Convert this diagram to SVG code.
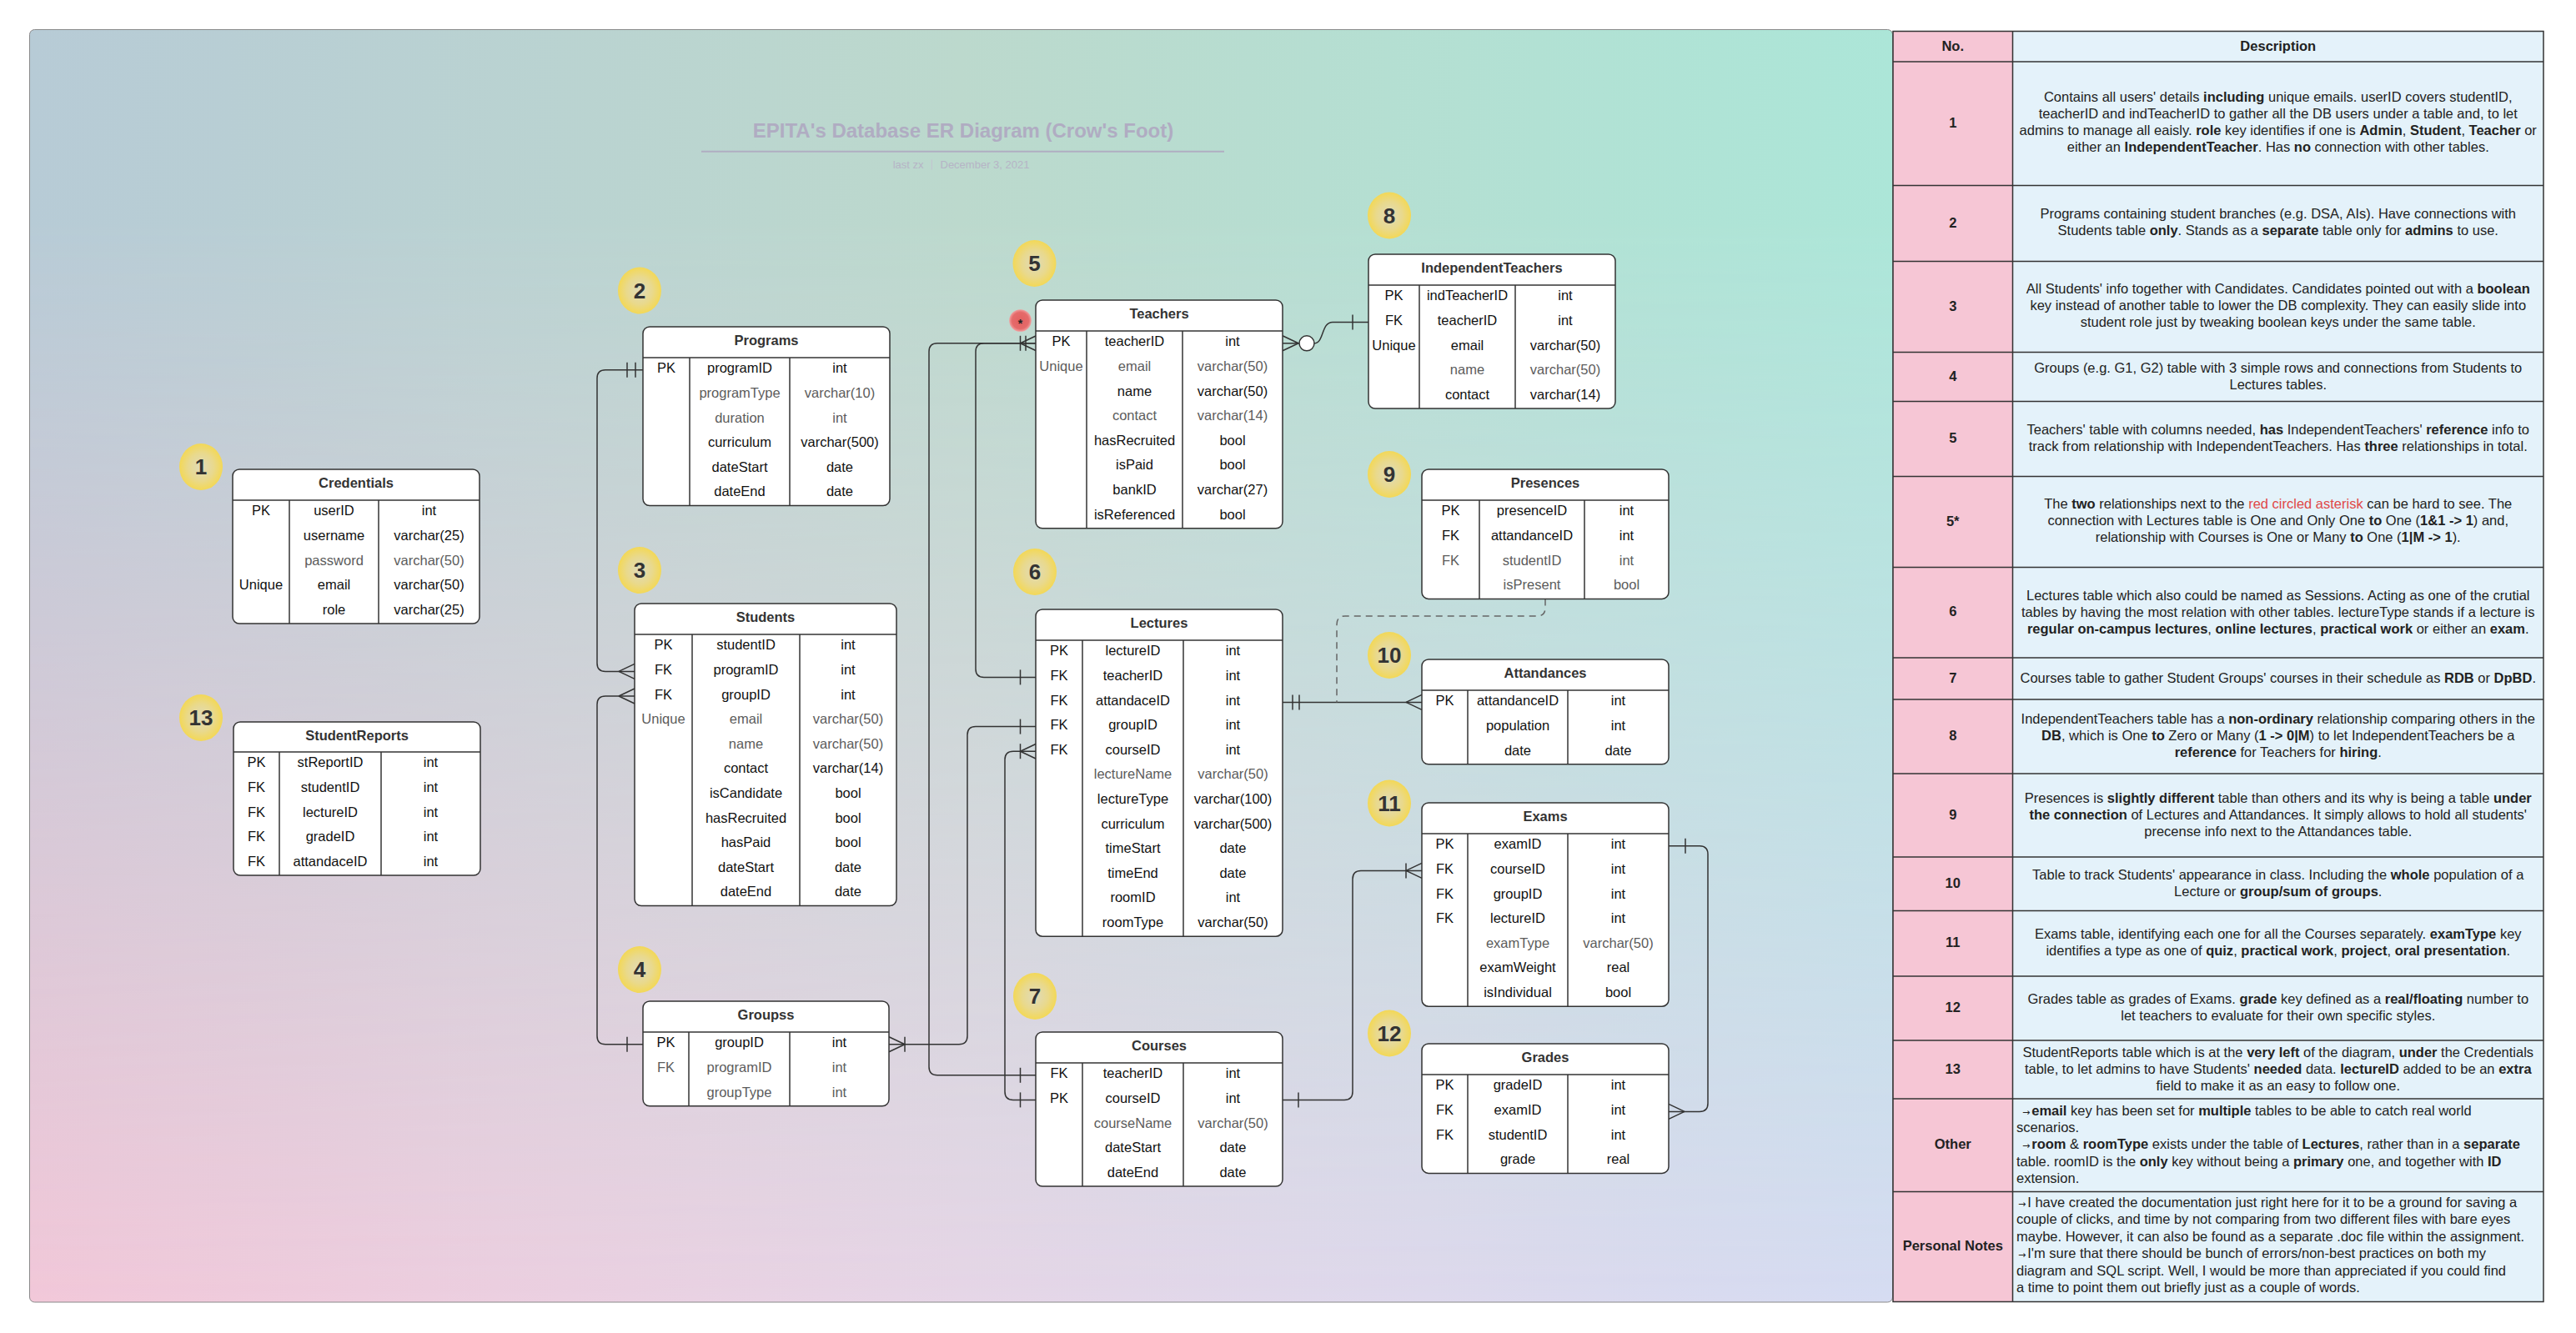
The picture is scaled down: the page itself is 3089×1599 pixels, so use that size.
<svg xmlns="http://www.w3.org/2000/svg" width="3089" height="1599" viewBox="0 0 3089 1599">
<defs>
<style>
.tb{fill:#fff;stroke:#333;stroke-width:1.5}
.ln{stroke:#333;stroke-width:1.5}
.th{font:bold 16.5px "Liberation Sans",Arial,sans-serif;fill:#333;text-anchor:middle}
.td{font:16.5px "Liberation Sans",Arial,sans-serif;fill:#111;text-anchor:middle}
.g{fill:#5c5c5c}
.bn{font:bold 26px "Liberation Sans",Arial,sans-serif;fill:#333;text-anchor:middle}
.cn{fill:none;stroke:#333;stroke-width:1.5}
.dash{stroke:#666;stroke-dasharray:8 6}
.ds{font:16.5px "Liberation Sans",Arial,sans-serif;fill:#222;text-anchor:middle}
.dl{font:16.5px "Liberation Sans",Arial,sans-serif;fill:#222}
.dh{font:bold 16.5px "Liberation Sans",Arial,sans-serif;fill:#222;text-anchor:middle}
.b{font-weight:bold}
.red{fill:#e04848}
.ar{font-family:"DejaVu Sans",sans-serif;font-size:11px}
</style>
<linearGradient id="gTop" x1="0" y1="0" x2="1" y2="0">
<stop offset="0" stop-color="#b7cbd6"/><stop offset="0.5" stop-color="#bcd9cd"/><stop offset="1" stop-color="#ace6d8"/>
</linearGradient>
<linearGradient id="gBot" x1="0" y1="0" x2="1" y2="0">
<stop offset="0" stop-color="#f2c8d9"/><stop offset="0.5" stop-color="#e6d6e7"/><stop offset="1" stop-color="#d6dcf2"/>
</linearGradient>
<linearGradient id="gFade" x1="0" y1="0" x2="0" y2="1">
<stop offset="0" stop-color="#fff"/><stop offset="0.15" stop-color="#fff"/><stop offset="1" stop-color="#000"/>
</linearGradient>
<mask id="mFade" maskUnits="userSpaceOnUse" x="0" y="0" width="3089" height="1599">
<rect x="35.5" y="35.5" width="2234" height="1526.5" fill="url(#gFade)"/>
</mask>
<radialGradient id="gBadge" cx="0.5" cy="0.5" r="0.5">
<stop offset="0" stop-color="#e0dbbb"/><stop offset="0.6" stop-color="#e9d98c"/><stop offset="1" stop-color="#f3d856"/>
</radialGradient>
<radialGradient id="gRed" cx="0.5" cy="0.5" r="0.5">
<stop offset="0" stop-color="#e26060"/><stop offset="0.75" stop-color="#e56a6a"/><stop offset="1" stop-color="#f0a0a0"/>
</radialGradient>
<path id="cfR" d="M0,0 L19,-9 M0,0 L19,9" fill="none" stroke="#333" stroke-width="1.5"/>
<path id="cfL" d="M0,0 L-19,-9 M0,0 L-19,9" fill="none" stroke="#333" stroke-width="1.5"/>
<path id="tk" d="M0,-9 V9" fill="none" stroke="#333" stroke-width="1.5"/>
</defs>

<rect x="0" y="0" width="3089" height="1599" fill="#fff"/>

<g id="background">
<rect x="35.5" y="35.5" width="2234" height="1526.5" rx="6" fill="url(#gBot)"/>
<rect x="35.5" y="35.5" width="2234" height="1526.5" rx="6" fill="url(#gTop)" mask="url(#mFade)"/>
<rect x="35.5" y="35.5" width="2234" height="1526.5" rx="6" fill="none" stroke="#8a8a8a" stroke-width="1"/>
</g>

<g id="title">
<text x="1155" y="164.5" text-anchor="middle" style="font:bold 24px 'Liberation Sans',Arial,sans-serif;fill:#b0acc2">EPITA's Database ER Diagram (Crow's Foot)</text>
<line x1="841" y1="181.7" x2="1468" y2="181.7" stroke="#b0aec2" stroke-width="2"/>
<text x="1107.5" y="201.5" text-anchor="end" style="font:13px 'Liberation Sans',Arial,sans-serif;fill:#b6b4c6">last zx</text>
<line x1="1117.3" y1="191.5" x2="1117.3" y2="203.5" stroke="#c4c2d0" stroke-width="1"/>
<text x="1127.5" y="201.5" style="font:13px 'Liberation Sans',Arial,sans-serif;fill:#b6b4c6">December 3, 2021</text>
</g>

<g id="connectors">
<path class="cn" d="M771,443.8 H726 Q716,443.8 716,453.8 V795.4 Q716,805.4 726,805.4 H761"/>
<path class="cn" d="M761,835 H726 Q716,835 716,845 V1242.8 Q716,1252.8 726,1252.8 H771"/>
<path class="cn" d="M1242,411.8 H1124 Q1114,411.8 1114,421.8 V1279.8 Q1114,1289.8 1124,1289.8 H1242"/>
<path class="cn" d="M1242,411.8 H1180 Q1170,411.8 1170,421.8 V802.4 Q1170,812.4 1180,812.4 H1242"/>
<path class="cn" d="M1242,871.6 H1170 Q1160,871.6 1160,881.6 V1242.8 Q1160,1252.8 1150,1252.8 H1066"/>
<path class="cn" d="M1242,901.2 H1215 Q1205,901.2 1205,911.2 V1309.4 Q1205,1319.4 1215,1319.4 H1242"/>
<path class="cn" d="M1538,411.8 H1558"/>
<path class="cn" d="M1576,411.8 C1588,411.8 1584,386.4 1598,386.4 H1641"/>
<circle cx="1567" cy="411.8" r="9" fill="#fff" stroke="#333" stroke-width="1.5"/>
<path class="cn" d="M1538,842.4 H1705"/>
<path class="cn dash" d="M1853,718.4 V729 Q1853,739 1843,739 H1613 Q1603,739 1603,749 V842.4"/>
<path class="cn" d="M1538,1319.4 H1612 Q1622,1319.4 1622,1309.4 V1054.4 Q1622,1044.4 1632,1044.4 H1705"/>
<path class="cn" d="M2001,1014.8 H2038 Q2048,1014.8 2048,1024.8 V1323.4 Q2048,1333.4 2038,1333.4 H2001"/>
<use href="#tk" x="752" y="443.8"/><use href="#tk" x="762" y="443.8"/>
<use href="#cfR" x="742" y="805.4"/>
<use href="#cfR" x="742" y="835"/>
<use href="#tk" x="752" y="1252.8"/>
<use href="#cfR" x="1223.5" y="411.8"/><use href="#tk" x="1223.5" y="411.8"/><use href="#tk" x="1230" y="411.8"/>
<use href="#tk" x="1223.5" y="812.4"/>
<use href="#tk" x="1223.5" y="871.6"/>
<use href="#cfR" x="1223.5" y="901.2"/><use href="#tk" x="1223.5" y="901.2"/>
<use href="#tk" x="1223.5" y="1289.8"/>
<use href="#tk" x="1223.5" y="1319.4"/>
<use href="#cfL" x="1085" y="1252.8"/><use href="#tk" x="1085" y="1252.8"/>
<use href="#cfL" x="1557" y="411.8"/>
<use href="#tk" x="1622" y="386.4"/>
<use href="#tk" x="1550" y="842.4"/><use href="#tk" x="1558" y="842.4"/>
<use href="#cfR" x="1686" y="842.4"/>
<use href="#tk" x="1557" y="1319.4"/>
<use href="#cfR" x="1686" y="1044.4"/><use href="#tk" x="1686" y="1044.4"/>
<use href="#tk" x="2021" y="1014.8"/>
<use href="#cfL" x="2020" y="1333.4"/>
</g>

<g id="asterisk">
<circle cx="1223.5" cy="384.5" r="13.3" fill="url(#gRed)"/>
<text x="1223.5" y="392.5" text-anchor="middle" style="font:bold 14px 'Liberation Sans',Arial,sans-serif;fill:#222">*</text>
</g>

<g id="badges">
<g id="badge-1"><ellipse cx="241" cy="560" rx="26" ry="28" fill="url(#gBadge)"/><text class="bn" x="241" y="569.3">1</text></g>
<g id="badge-13"><ellipse cx="241" cy="861" rx="26" ry="28" fill="url(#gBadge)"/><text class="bn" x="241" y="870.3">13</text></g>
<g id="badge-2"><ellipse cx="767" cy="348.5" rx="26" ry="28" fill="url(#gBadge)"/><text class="bn" x="767" y="357.8">2</text></g>
<g id="badge-3"><ellipse cx="767" cy="684" rx="26" ry="28" fill="url(#gBadge)"/><text class="bn" x="767" y="693.3">3</text></g>
<g id="badge-4"><ellipse cx="767" cy="1163" rx="26" ry="28" fill="url(#gBadge)"/><text class="bn" x="767" y="1172.3">4</text></g>
<g id="badge-5"><ellipse cx="1240.5" cy="316" rx="26" ry="28" fill="url(#gBadge)"/><text class="bn" x="1240.5" y="325.3">5</text></g>
<g id="badge-6"><ellipse cx="1241" cy="686" rx="26" ry="28" fill="url(#gBadge)"/><text class="bn" x="1241" y="695.3">6</text></g>
<g id="badge-7"><ellipse cx="1241" cy="1195" rx="26" ry="28" fill="url(#gBadge)"/><text class="bn" x="1241" y="1204.3">7</text></g>
<g id="badge-8"><ellipse cx="1666" cy="258.5" rx="26" ry="28" fill="url(#gBadge)"/><text class="bn" x="1666" y="267.8">8</text></g>
<g id="badge-9"><ellipse cx="1666" cy="569" rx="26" ry="28" fill="url(#gBadge)"/><text class="bn" x="1666" y="578.3">9</text></g>
<g id="badge-10"><ellipse cx="1666" cy="786" rx="26" ry="28" fill="url(#gBadge)"/><text class="bn" x="1666" y="795.3">10</text></g>
<g id="badge-11"><ellipse cx="1666" cy="963.5" rx="26" ry="28" fill="url(#gBadge)"/><text class="bn" x="1666" y="972.8">11</text></g>
<g id="badge-12"><ellipse cx="1666" cy="1239.5" rx="26" ry="28" fill="url(#gBadge)"/><text class="bn" x="1666" y="1248.8">12</text></g>
</g>

<g id="credentials">
<rect class="tb" x="279" y="563" width="296" height="185" rx="8"/>
<line class="ln" x1="279" y1="600" x2="575" y2="600"/>
<line class="ln" x1="347" y1="600" x2="347" y2="748"/>
<line class="ln" x1="454" y1="600" x2="454" y2="748"/>
<text class="th" x="427" y="584.5">Credentials</text>
<text class="td" x="313" y="618.4">PK</text><text class="td" x="400.5" y="618.4">userID</text><text class="td" x="514.5" y="618.4">int</text>
<text class="td" x="400.5" y="648">username</text><text class="td" x="514.5" y="648">varchar(25)</text>
<text class="td g" x="400.5" y="677.6">password</text><text class="td g" x="514.5" y="677.6">varchar(50)</text>
<text class="td" x="313" y="707.2">Unique</text><text class="td" x="400.5" y="707.2">email</text><text class="td" x="514.5" y="707.2">varchar(50)</text>
<text class="td" x="400.5" y="736.8">role</text><text class="td" x="514.5" y="736.8">varchar(25)</text>
</g>

<g id="studentreports">
<rect class="tb" x="280" y="866" width="296" height="184" rx="8"/>
<line class="ln" x1="280" y1="902" x2="576" y2="902"/>
<line class="ln" x1="335" y1="902" x2="335" y2="1050"/>
<line class="ln" x1="457" y1="902" x2="457" y2="1050"/>
<text class="th" x="428" y="887.5">StudentReports</text>
<text class="td" x="307.5" y="920.4">PK</text><text class="td" x="396" y="920.4">stReportID</text><text class="td" x="516.5" y="920.4">int</text>
<text class="td" x="307.5" y="950">FK</text><text class="td" x="396" y="950">studentID</text><text class="td" x="516.5" y="950">int</text>
<text class="td" x="307.5" y="979.6">FK</text><text class="td" x="396" y="979.6">lectureID</text><text class="td" x="516.5" y="979.6">int</text>
<text class="td" x="307.5" y="1009.2">FK</text><text class="td" x="396" y="1009.2">gradeID</text><text class="td" x="516.5" y="1009.2">int</text>
<text class="td" x="307.5" y="1038.8">FK</text><text class="td" x="396" y="1038.8">attandaceID</text><text class="td" x="516.5" y="1038.8">int</text>
</g>

<g id="programs">
<rect class="tb" x="771" y="392" width="296" height="214.6" rx="8"/>
<line class="ln" x1="771" y1="429" x2="1067" y2="429"/>
<line class="ln" x1="827" y1="429" x2="827" y2="606.6"/>
<line class="ln" x1="947" y1="429" x2="947" y2="606.6"/>
<text class="th" x="919" y="413.5">Programs</text>
<text class="td" x="799" y="447.4">PK</text><text class="td" x="887" y="447.4">programID</text><text class="td" x="1007" y="447.4">int</text>
<text class="td g" x="887" y="477">programType</text><text class="td g" x="1007" y="477">varchar(10)</text>
<text class="td g" x="887" y="506.6">duration</text><text class="td g" x="1007" y="506.6">int</text>
<text class="td" x="887" y="536.2">curriculum</text><text class="td" x="1007" y="536.2">varchar(500)</text>
<text class="td" x="887" y="565.8">dateStart</text><text class="td" x="1007" y="565.8">date</text>
<text class="td" x="887" y="595.4">dateEnd</text><text class="td" x="1007" y="595.4">date</text>
</g>

<g id="students">
<rect class="tb" x="761" y="724" width="314" height="362.6" rx="8"/>
<line class="ln" x1="761" y1="761" x2="1075" y2="761"/>
<line class="ln" x1="830" y1="761" x2="830" y2="1086.6"/>
<line class="ln" x1="959" y1="761" x2="959" y2="1086.6"/>
<text class="th" x="918" y="745.5">Students</text>
<text class="td" x="795.5" y="779.4">PK</text><text class="td" x="894.5" y="779.4">studentID</text><text class="td" x="1017" y="779.4">int</text>
<text class="td" x="795.5" y="809">FK</text><text class="td" x="894.5" y="809">programID</text><text class="td" x="1017" y="809">int</text>
<text class="td" x="795.5" y="838.6">FK</text><text class="td" x="894.5" y="838.6">groupID</text><text class="td" x="1017" y="838.6">int</text>
<text class="td g" x="795.5" y="868.2">Unique</text><text class="td g" x="894.5" y="868.2">email</text><text class="td g" x="1017" y="868.2">varchar(50)</text>
<text class="td g" x="894.5" y="897.8">name</text><text class="td g" x="1017" y="897.8">varchar(50)</text>
<text class="td" x="894.5" y="927.4">contact</text><text class="td" x="1017" y="927.4">varchar(14)</text>
<text class="td" x="894.5" y="957">isCandidate</text><text class="td" x="1017" y="957">bool</text>
<text class="td" x="894.5" y="986.6">hasRecruited</text><text class="td" x="1017" y="986.6">bool</text>
<text class="td" x="894.5" y="1016.2">hasPaid</text><text class="td" x="1017" y="1016.2">bool</text>
<text class="td" x="894.5" y="1045.8">dateStart</text><text class="td" x="1017" y="1045.8">date</text>
<text class="td" x="894.5" y="1075.4">dateEnd</text><text class="td" x="1017" y="1075.4">date</text>
</g>

<g id="groupss">
<rect class="tb" x="771" y="1201" width="295" height="125.8" rx="8"/>
<line class="ln" x1="771" y1="1238" x2="1066" y2="1238"/>
<line class="ln" x1="826" y1="1238" x2="826" y2="1326.8"/>
<line class="ln" x1="947" y1="1238" x2="947" y2="1326.8"/>
<text class="th" x="918.5" y="1222.5">Groupss</text>
<text class="td" x="798.5" y="1256.4">PK</text><text class="td" x="886.5" y="1256.4">groupID</text><text class="td" x="1006.5" y="1256.4">int</text>
<text class="td g" x="798.5" y="1286">FK</text><text class="td g" x="886.5" y="1286">programID</text><text class="td g" x="1006.5" y="1286">int</text>
<text class="td g" x="886.5" y="1315.6">groupType</text><text class="td g" x="1006.5" y="1315.6">int</text>
</g>

<g id="teachers">
<rect class="tb" x="1242" y="360" width="296" height="273.8" rx="8"/>
<line class="ln" x1="1242" y1="397" x2="1538" y2="397"/>
<line class="ln" x1="1303" y1="397" x2="1303" y2="633.8"/>
<line class="ln" x1="1418" y1="397" x2="1418" y2="633.8"/>
<text class="th" x="1390" y="381.5">Teachers</text>
<text class="td" x="1272.5" y="415.4">PK</text><text class="td" x="1360.5" y="415.4">teacherID</text><text class="td" x="1478" y="415.4">int</text>
<text class="td g" x="1272.5" y="445">Unique</text><text class="td g" x="1360.5" y="445">email</text><text class="td g" x="1478" y="445">varchar(50)</text>
<text class="td" x="1360.5" y="474.6">name</text><text class="td" x="1478" y="474.6">varchar(50)</text>
<text class="td g" x="1360.5" y="504.2">contact</text><text class="td g" x="1478" y="504.2">varchar(14)</text>
<text class="td" x="1360.5" y="533.8">hasRecruited</text><text class="td" x="1478" y="533.8">bool</text>
<text class="td" x="1360.5" y="563.4">isPaid</text><text class="td" x="1478" y="563.4">bool</text>
<text class="td" x="1360.5" y="593">bankID</text><text class="td" x="1478" y="593">varchar(27)</text>
<text class="td" x="1360.5" y="622.6">isReferenced</text><text class="td" x="1478" y="622.6">bool</text>
</g>

<g id="lectures">
<rect class="tb" x="1242" y="731" width="296" height="392.2" rx="8"/>
<line class="ln" x1="1242" y1="768" x2="1538" y2="768"/>
<line class="ln" x1="1298" y1="768" x2="1298" y2="1123.2"/>
<line class="ln" x1="1419" y1="768" x2="1419" y2="1123.2"/>
<text class="th" x="1390" y="752.5">Lectures</text>
<text class="td" x="1270" y="786.4">PK</text><text class="td" x="1358.5" y="786.4">lectureID</text><text class="td" x="1478.5" y="786.4">int</text>
<text class="td" x="1270" y="816">FK</text><text class="td" x="1358.5" y="816">teacherID</text><text class="td" x="1478.5" y="816">int</text>
<text class="td" x="1270" y="845.6">FK</text><text class="td" x="1358.5" y="845.6">attandaceID</text><text class="td" x="1478.5" y="845.6">int</text>
<text class="td" x="1270" y="875.2">FK</text><text class="td" x="1358.5" y="875.2">groupID</text><text class="td" x="1478.5" y="875.2">int</text>
<text class="td" x="1270" y="904.8">FK</text><text class="td" x="1358.5" y="904.8">courseID</text><text class="td" x="1478.5" y="904.8">int</text>
<text class="td g" x="1358.5" y="934.4">lectureName</text><text class="td g" x="1478.5" y="934.4">varchar(50)</text>
<text class="td" x="1358.5" y="964">lectureType</text><text class="td" x="1478.5" y="964">varchar(100)</text>
<text class="td" x="1358.5" y="993.6">curriculum</text><text class="td" x="1478.5" y="993.6">varchar(500)</text>
<text class="td" x="1358.5" y="1023.2">timeStart</text><text class="td" x="1478.5" y="1023.2">date</text>
<text class="td" x="1358.5" y="1052.8">timeEnd</text><text class="td" x="1478.5" y="1052.8">date</text>
<text class="td" x="1358.5" y="1082.4">roomID</text><text class="td" x="1478.5" y="1082.4">int</text>
<text class="td" x="1358.5" y="1112">roomType</text><text class="td" x="1478.5" y="1112">varchar(50)</text>
</g>

<g id="courses">
<rect class="tb" x="1242" y="1238" width="296" height="185" rx="8"/>
<line class="ln" x1="1242" y1="1275" x2="1538" y2="1275"/>
<line class="ln" x1="1298" y1="1275" x2="1298" y2="1423"/>
<line class="ln" x1="1419" y1="1275" x2="1419" y2="1423"/>
<text class="th" x="1390" y="1259.5">Courses</text>
<text class="td" x="1270" y="1293.4">FK</text><text class="td" x="1358.5" y="1293.4">teacherID</text><text class="td" x="1478.5" y="1293.4">int</text>
<text class="td" x="1270" y="1323">PK</text><text class="td" x="1358.5" y="1323">courseID</text><text class="td" x="1478.5" y="1323">int</text>
<text class="td g" x="1358.5" y="1352.6">courseName</text><text class="td g" x="1478.5" y="1352.6">varchar(50)</text>
<text class="td" x="1358.5" y="1382.2">dateStart</text><text class="td" x="1478.5" y="1382.2">date</text>
<text class="td" x="1358.5" y="1411.8">dateEnd</text><text class="td" x="1478.5" y="1411.8">date</text>
</g>

<g id="independentteachers">
<rect class="tb" x="1641" y="305" width="296" height="185" rx="8"/>
<line class="ln" x1="1641" y1="342" x2="1937" y2="342"/>
<line class="ln" x1="1702" y1="342" x2="1702" y2="490"/>
<line class="ln" x1="1817" y1="342" x2="1817" y2="490"/>
<text class="th" x="1789" y="326.5">IndependentTeachers</text>
<text class="td" x="1671.5" y="360.4">PK</text><text class="td" x="1759.5" y="360.4">indTeacherID</text><text class="td" x="1877" y="360.4">int</text>
<text class="td" x="1671.5" y="390">FK</text><text class="td" x="1759.5" y="390">teacherID</text><text class="td" x="1877" y="390">int</text>
<text class="td" x="1671.5" y="419.6">Unique</text><text class="td" x="1759.5" y="419.6">email</text><text class="td" x="1877" y="419.6">varchar(50)</text>
<text class="td g" x="1759.5" y="449.2">name</text><text class="td g" x="1877" y="449.2">varchar(50)</text>
<text class="td" x="1759.5" y="478.8">contact</text><text class="td" x="1877" y="478.8">varchar(14)</text>
</g>

<g id="presences">
<rect class="tb" x="1705" y="563" width="296" height="155.4" rx="8"/>
<line class="ln" x1="1705" y1="600" x2="2001" y2="600"/>
<line class="ln" x1="1774" y1="600" x2="1774" y2="718.4"/>
<line class="ln" x1="1900" y1="600" x2="1900" y2="718.4"/>
<text class="th" x="1853" y="584.5">Presences</text>
<text class="td" x="1739.5" y="618.4">PK</text><text class="td" x="1837" y="618.4">presenceID</text><text class="td" x="1950.5" y="618.4">int</text>
<text class="td" x="1739.5" y="648">FK</text><text class="td" x="1837" y="648">attandanceID</text><text class="td" x="1950.5" y="648">int</text>
<text class="td g" x="1739.5" y="677.6">FK</text><text class="td g" x="1837" y="677.6">studentID</text><text class="td g" x="1950.5" y="677.6">int</text>
<text class="td g" x="1837" y="707.2">isPresent</text><text class="td g" x="1950.5" y="707.2">bool</text>
</g>

<g id="attandances">
<rect class="tb" x="1705" y="791" width="296" height="125.8" rx="8"/>
<line class="ln" x1="1705" y1="828" x2="2001" y2="828"/>
<line class="ln" x1="1760" y1="828" x2="1760" y2="916.8"/>
<line class="ln" x1="1880" y1="828" x2="1880" y2="916.8"/>
<text class="th" x="1853" y="812.5">Attandances</text>
<text class="td" x="1732.5" y="846.4">PK</text><text class="td" x="1820" y="846.4">attandanceID</text><text class="td" x="1940.5" y="846.4">int</text>
<text class="td" x="1820" y="876">population</text><text class="td" x="1940.5" y="876">int</text>
<text class="td" x="1820" y="905.6">date</text><text class="td" x="1940.5" y="905.6">date</text>
</g>

<g id="exams">
<rect class="tb" x="1705" y="963" width="296" height="244.2" rx="8"/>
<line class="ln" x1="1705" y1="1000" x2="2001" y2="1000"/>
<line class="ln" x1="1760" y1="1000" x2="1760" y2="1207.2"/>
<line class="ln" x1="1880" y1="1000" x2="1880" y2="1207.2"/>
<text class="th" x="1853" y="984.5">Exams</text>
<text class="td" x="1732.5" y="1018.4">PK</text><text class="td" x="1820" y="1018.4">examID</text><text class="td" x="1940.5" y="1018.4">int</text>
<text class="td" x="1732.5" y="1048">FK</text><text class="td" x="1820" y="1048">courseID</text><text class="td" x="1940.5" y="1048">int</text>
<text class="td" x="1732.5" y="1077.6">FK</text><text class="td" x="1820" y="1077.6">groupID</text><text class="td" x="1940.5" y="1077.6">int</text>
<text class="td" x="1732.5" y="1107.2">FK</text><text class="td" x="1820" y="1107.2">lectureID</text><text class="td" x="1940.5" y="1107.2">int</text>
<text class="td g" x="1820" y="1136.8">examType</text><text class="td g" x="1940.5" y="1136.8">varchar(50)</text>
<text class="td" x="1820" y="1166.4">examWeight</text><text class="td" x="1940.5" y="1166.4">real</text>
<text class="td" x="1820" y="1196">isIndividual</text><text class="td" x="1940.5" y="1196">bool</text>
</g>

<g id="grades">
<rect class="tb" x="1705" y="1252" width="296" height="155.4" rx="8"/>
<line class="ln" x1="1705" y1="1289" x2="2001" y2="1289"/>
<line class="ln" x1="1760" y1="1289" x2="1760" y2="1407.4"/>
<line class="ln" x1="1880" y1="1289" x2="1880" y2="1407.4"/>
<text class="th" x="1853" y="1273.5">Grades</text>
<text class="td" x="1732.5" y="1307.4">PK</text><text class="td" x="1820" y="1307.4">gradeID</text><text class="td" x="1940.5" y="1307.4">int</text>
<text class="td" x="1732.5" y="1337">FK</text><text class="td" x="1820" y="1337">examID</text><text class="td" x="1940.5" y="1337">int</text>
<text class="td" x="1732.5" y="1366.6">FK</text><text class="td" x="1820" y="1366.6">studentID</text><text class="td" x="1940.5" y="1366.6">int</text>
<text class="td" x="1820" y="1396.2">grade</text><text class="td" x="1940.5" y="1396.2">real</text>
</g>

<g id="description-table">
<rect x="2270" y="37.5" width="143.5" height="1524" fill="#f6c6d5"/>
<rect x="2413.5" y="37.5" width="636.5" height="1524" fill="#e4f2fa"/>
<g stroke="#333" stroke-width="1.5" fill="none">
<rect x="2270" y="37.5" width="780" height="1524"/>
<line x1="2413.5" y1="37.5" x2="2413.5" y2="1561.5"/>
<line x1="2270" y1="74" x2="3050" y2="74"/>
<line x1="2270" y1="222.5" x2="3050" y2="222.5"/>
<line x1="2270" y1="313.5" x2="3050" y2="313.5"/>
<line x1="2270" y1="422.5" x2="3050" y2="422.5"/>
<line x1="2270" y1="481.5" x2="3050" y2="481.5"/>
<line x1="2270" y1="571.5" x2="3050" y2="571.5"/>
<line x1="2270" y1="680.5" x2="3050" y2="680.5"/>
<line x1="2270" y1="789" x2="3050" y2="789"/>
<line x1="2270" y1="839" x2="3050" y2="839"/>
<line x1="2270" y1="928" x2="3050" y2="928"/>
<line x1="2270" y1="1028" x2="3050" y2="1028"/>
<line x1="2270" y1="1092.5" x2="3050" y2="1092.5"/>
<line x1="2270" y1="1171" x2="3050" y2="1171"/>
<line x1="2270" y1="1248" x2="3050" y2="1248"/>
<line x1="2270" y1="1318" x2="3050" y2="1318"/>
<line x1="2270" y1="1429.5" x2="3050" y2="1429.5"/>
</g>
<text class="dh" x="2341.75" y="60.5">No.</text>
<text class="dh" x="2731.75" y="60.5">Description</text>

<text class="dh" x="2341.75" y="152.8">1</text>
<text class="ds" x="2731.75" y="122.4">Contains all users' details <tspan class="b">including</tspan> unique emails. userID covers studentID,</text>
<text class="ds" x="2731.75" y="142.4">teacherID and indTeacherID to gather all the DB users under a table and, to let</text>
<text class="ds" x="2731.75" y="162.4">admins to manage all eaisly. <tspan class="b">role</tspan> key identifies if one is <tspan class="b">Admin</tspan>, <tspan class="b">Student</tspan>, <tspan class="b">Teacher</tspan> or</text>
<text class="ds" x="2731.75" y="182.4">either an <tspan class="b">IndependentTeacher</tspan>. Has <tspan class="b">no</tspan> connection with other tables.</text>

<text class="dh" x="2341.75" y="272.5">2</text>
<text class="ds" x="2731.75" y="262">Programs containing student branches (e.g. DSA, AIs). Have connections with</text>
<text class="ds" x="2731.75" y="282">Students table <tspan class="b">only</tspan>. Stands as a <tspan class="b">separate</tspan> table only for <tspan class="b">admins</tspan> to use.</text>

<text class="dh" x="2341.75" y="372.5">3</text>
<text class="ds" x="2731.75" y="352.4">All Students' info together with Candidates. Candidates pointed out with a <tspan class="b">boolean</tspan></text>
<text class="ds" x="2731.75" y="372.4">key instead of another table to lower the DB complexity. They can easily slide into</text>
<text class="ds" x="2731.75" y="392.4">student role just by tweaking boolean keys under the same table.</text>

<text class="dh" x="2341.75" y="456.5">4</text>
<text class="ds" x="2731.75" y="446.6">Groups (e.g. G1, G2) table with 3 simple rows and connections from Students to</text>
<text class="ds" x="2731.75" y="466.6">Lectures tables.</text>

<text class="dh" x="2341.75" y="531">5</text>
<text class="ds" x="2731.75" y="520.6">Teachers' table with columns needed, <tspan class="b">has</tspan> IndependentTeachers' <tspan class="b">reference</tspan> info to</text>
<text class="ds" x="2731.75" y="540.6">track from relationship with IndependentTeachers. Has <tspan class="b">three</tspan> relationships in total.</text>

<text class="dh" x="2341.75" y="630.5">5*</text>
<text class="ds" x="2731.75" y="610">The <tspan class="b">two</tspan> relationships next to the <tspan class="red">red circled asterisk</tspan> can be hard to see. The</text>
<text class="ds" x="2731.75" y="630">connection with Lectures table is One and Only One <tspan class="b">to</tspan> One (<tspan class="b">1&amp;1 -&gt; 1</tspan>) and,</text>
<text class="ds" x="2731.75" y="650">relationship with Courses is One or Many <tspan class="b">to</tspan> One (<tspan class="b">1|M -&gt; 1</tspan>).</text>

<text class="dh" x="2341.75" y="739.3">6</text>
<text class="ds" x="2731.75" y="719.7">Lectures table which also could be named as Sessions. Acting as one of the crutial</text>
<text class="ds" x="2731.75" y="739.7">tables by having the most relation with other tables. lectureType stands if a lecture is</text>
<text class="ds" x="2731.75" y="759.7"><tspan class="b">regular on-campus lectures</tspan>, <tspan class="b">online lectures</tspan>, <tspan class="b">practical work</tspan> or either an <tspan class="b">exam</tspan>.</text>

<text class="dh" x="2341.75" y="818.5">7</text>
<text class="ds" x="2731.75" y="818.7">Courses table to gather Student Groups' courses in their schedule as <tspan class="b">RDB</tspan> or <tspan class="b">DpBD</tspan>.</text>

<text class="dh" x="2341.75" y="888">8</text>
<text class="ds" x="2731.75" y="867.7">IndependentTeachers table has a <tspan class="b">non-ordinary</tspan> relationship comparing others in the</text>
<text class="ds" x="2731.75" y="887.7"><tspan class="b">DB</tspan>, which is One <tspan class="b">to</tspan> Zero or Many (<tspan class="b">1 -&gt; 0|M</tspan>) to let IndependentTeachers be a</text>
<text class="ds" x="2731.75" y="907.7"><tspan class="b">reference</tspan> for Teachers for <tspan class="b">hiring</tspan>.</text>

<text class="dh" x="2341.75" y="982.5">9</text>
<text class="ds" x="2731.75" y="962.7">Presences is <tspan class="b">slightly different</tspan> table than others and its why is being a table <tspan class="b">under</tspan></text>
<text class="ds" x="2731.75" y="982.7"><tspan class="b">the connection</tspan> of Lectures and Attandances. It simply allows to hold all students'</text>
<text class="ds" x="2731.75" y="1002.7">precense info next to the Attandances table.</text>

<text class="dh" x="2341.75" y="1064.8">10</text>
<text class="ds" x="2731.75" y="1055">Table to track Students' appearance in class. Including the <tspan class="b">whole</tspan> population of a</text>
<text class="ds" x="2731.75" y="1075">Lecture or <tspan class="b">group/sum of groups</tspan>.</text>

<text class="dh" x="2341.75" y="1136.3">11</text>
<text class="ds" x="2731.75" y="1126">Exams table, identifying each one for all the Courses separately. <tspan class="b">examType</tspan> key</text>
<text class="ds" x="2731.75" y="1146">identifies a type as one of <tspan class="b">quiz</tspan>, <tspan class="b">practical work</tspan>, <tspan class="b">project</tspan>, <tspan class="b">oral presentation</tspan>.</text>

<text class="dh" x="2341.75" y="1214">12</text>
<text class="ds" x="2731.75" y="1204.3">Grades table as grades of Exams. <tspan class="b">grade</tspan> key defined as a <tspan class="b">real/floating</tspan> number to</text>
<text class="ds" x="2731.75" y="1224.3">let teachers to evaluate for their own specific styles.</text>

<text class="dh" x="2341.75" y="1287.5">13</text>
<text class="ds" x="2731.75" y="1267.7">StudentReports table which is at the <tspan class="b">very left</tspan> of the diagram, <tspan class="b">under</tspan> the Credentials</text>
<text class="ds" x="2731.75" y="1287.7">table, to let admins to have Students' <tspan class="b">needed</tspan> data. <tspan class="b">lectureID</tspan> added to be an <tspan class="b">extra</tspan></text>
<text class="ds" x="2731.75" y="1307.7">field to make it as an easy to follow one.</text>

<text class="dh" x="2341.75" y="1378">Other</text>
<text class="dl" x="2425" y="1337.7"><tspan class="ar">→</tspan><tspan class="b" dx="2">email</tspan> key has been set for <tspan class="b">multiple</tspan> tables to be able to catch real world</text>
<text class="dl" x="2418" y="1358">scenarios.</text>
<text class="dl" x="2425" y="1378.2"><tspan class="ar">→</tspan><tspan class="b" dx="2">room</tspan> &amp; <tspan class="b">roomType</tspan> exists under the table of <tspan class="b">Lectures</tspan>, rather than in a <tspan class="b">separate</tspan></text>
<text class="dl" x="2418" y="1398.5">table. roomID is the <tspan class="b">only</tspan> key without being a <tspan class="b">primary</tspan> one, and together with <tspan class="b">ID</tspan></text>
<text class="dl" x="2418" y="1418.7">extension.</text>

<text class="dh" x="2341.75" y="1499.5">Personal Notes</text>
<text class="dl" x="2420" y="1447.7"><tspan class="ar">→</tspan><tspan dx="2">I have created the documentation just right here for it to be a ground for saving a</tspan></text>
<text class="dl" x="2418" y="1468.2">couple of clicks, and time by not comparing from two different files with bare eyes</text>
<text class="dl" x="2418" y="1488.7">maybe. However, it can also be found as a separate .doc file within the assignment.</text>
<text class="dl" x="2420" y="1509.2"><tspan class="ar">→</tspan><tspan dx="2">I'm sure that there should be bunch of errors/non-best practices on both my</tspan></text>
<text class="dl" x="2418" y="1529.7">diagram and SQL script. Well, I would be more than appreciated if you could find</text>
<text class="dl" x="2418" y="1550.2">a time to point them out briefly just as a couple of words.</text>
</g>
</svg>
